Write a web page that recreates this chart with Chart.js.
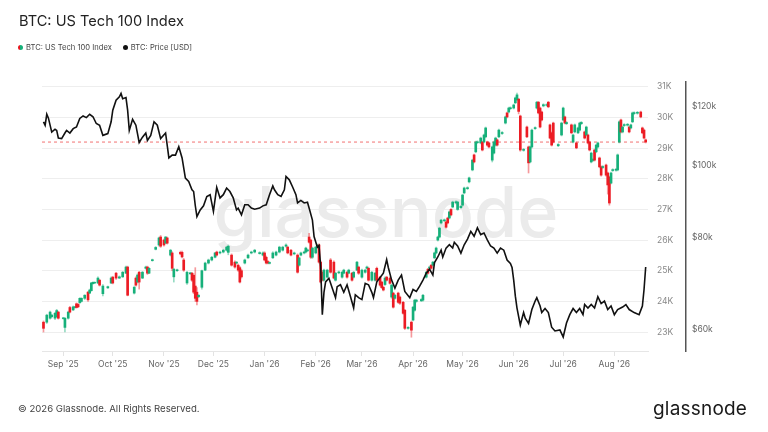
<!DOCTYPE html>
<html lang="en">
<head>
<meta charset="UTF-8">
<title>BTC: US Tech 100 Index</title>
<script src="https://cdn.jsdelivr.net/npm/chart.js"></script>
<style>
  body { margin: 0; background: #fff; font-family: 'Inter', sans-serif; }
  .wrap { position: relative; width: 768px; height: 432px; overflow: hidden; }
  .chart-box { position: absolute; left: 0; top: 0; width: 768px; height: 432px; }
  .title { position: absolute; left: 19px; top: 12px; font-size: 14.6px; color: #222; }
  .legend { position: absolute; left: 18px; top: 43px; font-size: 7.6px; color: #444; display: flex; gap: 11px; }
  .legend span { display: inline-flex; align-items: center; }
  .dot { width: 5px; height: 5px; border-radius: 50%; margin-right: 3px; display: inline-block; }
  .dot.candle { background: linear-gradient(90deg, #e8141c 50%, #16b07a 50%); }
  .dot.price { background: #111; }
  .footer { position: absolute; left: 18px; top: 403px; font-size: 9.6px; color: #444; }
  .logo { position: absolute; left: 653px; top: 397px; font-size: 19px; color: #1a1a1a; letter-spacing: 0.2px; }
</style>
</head>
<body>
<div class="wrap">
  <div class="chart-box"><canvas id="chart"></canvas></div>
  <div class="title">BTC: US Tech 100 Index</div>
  <div class="legend">
    <span><i class="dot candle"></i>BTC: US Tech 100 Index</span>
    <span><i class="dot price"></i>BTC: Price [USD]</span>
  </div>
  <div class="footer">© 2026 Glassnode. All Rights Reserved.</div>
  <div class="logo">glassnode</div>
</div>

<script>
// x values are days counted from 1 Sep 2025
const monthDays = [0, 30, 61, 91, 122, 153, 181, 212, 242, 273, 303, 334];
const monthLabels = ["Sep '25", "Oct '25", "Nov '25", "Dec '25", "Jan '26", "Feb '26",
                     "Mar '26", "Apr '26", "May '26", "Jun '26", "Jul '26", "Aug '26"];

// US Tech 100 index candles (thousands)
const candleDay = [
  -12,-10,-8,-7,-5,-4,-3,0,1,3,
  4,6,7,8,9,10,11,13,15,16,
  17,18,19,21,22,24,27,29,30,32,
  34,36,38,39,43,44,45,46,48,50,
  51,52,54,56,58,59,61,62,63,65,
  66,67,69,71,72,73,75,77,78,79,
  80,81,82,84,86,88,90,92,93,95,
  97,99,100,102,104,105,106,107,108,110,
  112,114,116,119,121,122,123,124,125,127,
  129,131,133,135,136,138,140,142,143,144,
  146,147,148,149,150,151,153,154,155,156,
  157,158,160,162,164,165,167,169,170,172,
  173,175,176,178,179,181,183,184,185,187,
  189,190,192,193,194,195,196,198,199,200,
  201,203,204,206,207,209,211,212,213,214,
  217,218,220,221,222,223,224,225,226,227,
  228,229,231,232,233,234,235,236,238,239,
  241,242,243,245,246,248,249,250,251,253,
  254,255,256,257,258,260,261,262,263,264,
  266,268,269,270,271,273,274,275,276,277,
  279,281,282,283,284,286,287,288,289,290,
  291,293,294,295,296,297,300,302,303,304,
  305,308,309,310,311,312,313,314,316,317,
  318,319,320,321,322,323,324,325,326,327,
  329,330,331,332,333,335,336,337,338,339,
  340,342,343,344,345,346,348,350,351,352,
  353
];
const candleOpen = [
  23.32,23.32,23.45,23.50,23.45,23.50,23.65,23.44,23.15,23.45,
  23.80,23.72,23.80,23.92,23.90,23.96,24.00,24.10,24.30,24.27,
  24.35,24.58,24.60,24.60,24.69,24.25,24.44,24.60,24.79,24.92,
  24.76,24.80,24.92,25.12,24.27,24.76,24.63,24.95,24.76,25.08,
  25.12,24.92,25.33,25.70,25.84,26.10,26.00,25.90,26.07,25.51,
  25.58,24.80,25.00,25.60,25.60,25.35,24.60,24.90,24.92,24.85,
  24.50,24.30,24.15,24.46,25.02,25.25,25.35,25.44,25.61,25.58,
  25.61,25.67,25.60,25.51,25.28,25.25,25.18,25.10,25.00,25.25,
  25.42,25.58,25.61,25.56,25.51,25.58,25.44,25.30,25.24,25.42,
  25.51,25.61,25.67,25.80,25.77,25.67,25.55,25.51,25.18,25.51,
  25.58,25.61,25.65,26.10,26.00,25.44,25.58,25.80,25.84,25.28,
  24.95,24.69,24.79,25.35,25.28,24.69,24.93,24.79,24.92,24.95,
  24.92,24.92,24.79,25.02,25.12,24.79,24.95,25.08,25.08,24.69,
  24.69,25.08,24.79,24.63,24.46,24.55,24.79,24.76,24.14,24.27,
  24.10,24.27,24.14,23.97,23.71,23.12,23.32,23.39,23.71,24.00,
  24.02,24.04,24.79,25.05,25.08,25.18,25.18,25.42,25.58,26.00,
  26.10,26.56,26.63,26.59,26.72,26.72,27.00,27.08,27.22,27.00,
  27.06,27.14,27.54,27.68,27.90,28.29,28.78,28.88,29.18,29.17,
  29.20,29.20,29.37,29.20,29.17,28.61,28.84,29.10,29.27,29.37,
  29.48,29.82,30.15,30.18,30.29,30.31,30.48,30.58,30.60,30.05,
  28.93,29.69,29.04,28.55,29.04,29.64,30.31,30.50,30.31,30.18,
  30.38,30.40,30.50,29.76,29.50,29.82,29.08,29.43,29.92,30.02,
  29.80,29.76,29.20,29.53,29.17,29.50,29.59,29.80,29.53,29.43,
  29.43,29.20,28.55,28.60,28.94,28.88,29.04,28.68,28.39,28.37,
  28.45,28.19,28.06,27.86,28.27,28.28,28.29,29.20,29.92,29.53,
  29.74,29.75,29.69,29.66,29.86,30.13,30.14,30.18,29.66,29.59,
  29.27
];
const candleHigh = [
  23.36,23.58,23.68,23.58,23.64,23.74,23.68,23.48,23.47,23.68,
  23.84,23.85,23.84,23.95,23.93,24.12,24.12,24.22,24.33,24.40,
  24.62,24.64,24.64,24.80,24.72,24.55,24.50,24.80,24.82,24.95,
  24.83,24.98,25.15,25.15,24.50,24.80,24.90,24.98,24.98,25.15,
  25.15,25.10,25.38,25.79,26.10,26.15,26.03,26.12,26.10,25.70,
  25.62,25.08,25.05,25.64,25.64,25.40,24.98,24.95,24.95,24.90,
  25.10,24.45,24.22,25.02,25.28,25.38,25.47,25.60,25.64,25.64,
  25.70,25.80,25.84,25.55,25.32,25.30,25.22,25.14,25.05,25.38,
  25.54,25.64,25.70,25.62,25.62,25.62,25.48,25.33,25.29,25.62,
  25.64,25.80,25.80,25.88,25.80,25.70,25.61,25.55,25.45,25.61,
  25.64,25.77,25.71,26.22,26.03,25.77,25.80,25.87,25.88,25.32,
  25.00,25.05,25.05,25.40,25.32,24.95,24.99,24.98,25.05,24.98,
  25.05,24.95,24.98,25.31,25.15,25.05,25.05,25.15,25.12,24.98,
  24.95,25.12,24.82,24.66,24.50,24.80,24.82,24.80,24.56,24.30,
  24.23,24.30,24.17,24.00,23.74,23.18,23.36,23.84,24.07,24.07,
  24.09,24.23,24.98,25.08,25.15,25.21,25.31,25.61,25.77,26.13,
  26.42,26.68,26.69,26.62,26.75,26.95,27.03,27.27,27.28,27.27,
  27.13,27.50,27.73,27.74,28.06,28.64,28.81,29.23,29.24,29.36,
  29.23,29.46,29.69,29.23,29.20,29.07,29.23,29.36,29.30,29.62,
  29.54,30.05,30.18,30.34,30.35,30.44,30.67,30.80,30.63,30.08,
  28.99,29.72,29.07,29.07,29.62,29.70,30.53,30.53,30.34,30.21,
  30.45,30.45,30.53,29.79,29.53,29.85,29.15,29.85,30.34,30.05,
  29.87,29.79,29.46,29.79,29.20,29.69,29.85,29.87,29.56,29.72,
  29.46,29.23,28.87,28.66,28.97,29.13,29.20,28.71,28.42,28.43,
  28.48,28.22,28.09,28.22,28.33,28.34,28.81,29.89,29.95,29.72,
  29.80,29.81,29.72,29.79,30.18,30.19,30.20,30.21,29.69,29.62,
  29.30
];
const candleLow = [
  23.00,23.28,23.42,23.46,23.40,23.47,23.42,23.42,23.00,23.42,
  23.62,23.70,23.78,23.78,23.80,23.93,23.98,24.06,24.00,24.25,
  24.33,24.56,24.58,24.58,24.50,24.18,24.42,24.58,24.57,24.72,
  24.74,24.78,24.90,24.18,24.24,24.50,24.60,24.40,24.74,25.05,
  24.88,24.90,25.31,25.68,25.80,25.76,25.80,25.88,25.87,25.48,
  25.00,24.63,24.98,25.52,25.42,24.98,24.55,24.88,24.65,24.25,
  24.00,23.88,24.12,24.40,25.00,25.22,25.32,25.42,25.48,25.55,
  25.58,25.64,25.52,25.15,25.08,25.22,24.98,24.60,24.76,25.22,
  25.40,25.55,25.58,25.54,25.48,25.32,25.22,25.22,25.22,25.40,
  25.48,25.58,25.64,25.77,25.55,25.48,25.52,24.92,25.15,25.48,
  25.55,25.58,25.62,25.90,25.40,25.40,25.55,25.77,25.25,24.60,
  24.66,24.66,24.76,24.92,24.73,24.66,24.90,24.76,24.90,24.76,
  24.90,24.66,24.76,25.00,24.88,24.76,24.92,25.05,24.66,24.66,
  24.66,24.66,24.50,24.42,24.34,24.52,24.66,24.56,24.10,23.78,
  24.07,23.94,23.90,23.58,23.08,23.09,22.83,23.36,23.68,23.97,
  23.99,24.01,24.76,24.89,25.05,25.05,25.15,25.39,25.55,25.97,
  26.07,26.53,26.60,26.39,26.53,26.69,26.79,27.05,27.19,26.97,
  27.03,27.11,27.51,27.65,27.87,28.26,28.52,28.85,29.15,29.14,
  28.91,29.17,29.34,29.07,29.01,28.55,28.81,29.07,29.07,29.34,
  29.45,29.79,29.99,30.15,30.26,30.28,30.45,30.55,30.12,28.90,
  28.90,29.34,28.19,28.52,29.01,29.61,30.28,30.12,29.66,29.89,
  30.35,30.37,30.32,29.30,29.07,29.17,29.05,29.40,29.89,29.79,
  29.77,29.47,29.17,29.50,28.98,29.47,29.56,29.77,29.30,29.40,
  29.14,28.91,28.52,28.57,28.58,28.85,29.01,28.36,28.09,28.34,
  28.09,27.50,27.14,27.83,28.24,28.25,28.26,29.17,29.50,29.50,
  29.71,29.72,29.50,29.63,29.83,30.10,30.11,29.99,29.47,29.30,
  29.17
];
const candleClose = [
  23.12,23.55,23.65,23.55,23.61,23.70,23.45,23.46,23.45,23.65,
  23.65,23.82,23.82,23.80,23.82,24.10,24.10,24.20,24.05,24.37,
  24.60,24.62,24.62,24.76,24.53,24.50,24.48,24.76,24.60,24.76,
  24.80,24.95,25.12,24.20,24.46,24.53,24.86,24.63,24.95,25.12,
  24.92,25.08,25.36,25.76,26.07,25.80,25.84,26.10,25.90,25.67,
  25.08,25.05,25.03,25.55,25.45,25.02,24.95,24.93,24.69,24.30,
  24.10,24.00,24.20,25.00,25.25,25.35,25.44,25.58,25.51,25.61,
  25.67,25.77,25.80,25.18,25.12,25.28,25.02,24.63,24.80,25.35,
  25.51,25.61,25.67,25.59,25.58,25.35,25.25,25.25,25.27,25.58,
  25.61,25.77,25.77,25.84,25.58,25.51,25.58,24.95,25.42,25.58,
  25.61,25.74,25.68,25.93,25.44,25.74,25.77,25.84,25.28,24.63,
  24.69,25.02,25.02,24.95,24.76,24.92,24.96,24.95,25.02,24.79,
  25.02,24.69,24.95,25.28,24.92,25.02,25.02,25.12,24.69,24.95,
  24.92,24.69,24.53,24.45,24.37,24.76,24.69,24.59,24.53,23.81,
  24.20,23.97,23.94,23.61,23.12,23.15,23.06,23.81,24.04,24.04,
  24.06,24.20,24.95,24.92,25.12,25.08,25.28,25.58,25.74,26.10,
  26.39,26.65,26.66,26.42,26.56,26.92,26.82,27.24,27.25,27.24,
  27.10,27.47,27.70,27.71,28.03,28.61,28.55,29.20,29.21,29.33,
  28.94,29.43,29.66,29.10,29.04,29.04,29.20,29.33,29.10,29.59,
  29.51,30.02,30.02,30.31,30.32,30.41,30.64,30.74,30.20,28.94,
  28.96,29.37,28.52,29.04,29.59,29.67,30.50,30.15,29.69,29.92,
  30.42,30.42,30.35,29.33,29.10,29.20,29.12,29.82,30.31,29.82,
  29.84,29.50,29.43,29.76,29.01,29.66,29.82,29.84,29.33,29.69,
  29.17,28.94,28.84,28.63,28.61,29.10,29.17,28.39,28.12,28.40,
  28.12,27.80,27.21,28.19,28.30,28.31,28.78,29.86,29.53,29.69,
  29.77,29.78,29.53,29.76,30.15,30.16,30.17,30.02,29.50,29.33,
  29.20
];

// BTC price (USD thousands)
const priceDay = [
  -12,-11,-10,-9,-7,-5,-4,-3,-1,1,
  2,4,6,8,10,12,14,16,18,20,
  22,24,27,29,30,32,34,35,36,38,
  39,40,42,44,46,48,50,51,53,55,
  57,59,62,64,66,68,70,72,74,76,
  78,79,80,81,83,85,87,89,91,93,
  95,97,99,101,103,105,106,108,110,112,
  114,116,119,121,123,125,127,128,130,132,
  134,135,137,139,141,142,144,146,148,149,
  151,152,154,155,156,157,158,159,161,163,
  165,166,168,170,172,174,176,177,179,181,
  183,185,187,188,190,191,194,196,197,199,
  201,203,205,207,210,212,214,216,218,220,
  222,224,225,227,229,230,232,234,236,237,
  239,241,243,245,247,249,251,253,255,257,
  259,261,263,265,267,269,271,272,273,274,
  275,277,279,280,282,284,286,287,289,290,
  292,294,296,298,301,303,305,307,309,311,
  313,315,316,318,320,322,324,326,328,330,
  332,334,336,339,341,343,346,349,351,352,
  353
];
const priceVal = [
  114.3,113.1,117.0,115.6,110.7,111.7,111.3,108.7,108.5,110.4,
  111.3,110.4,111.9,112.5,115.5,116.4,115.8,117.0,116.1,113.7,
  113.1,109.6,110.2,114.3,118.5,122.2,123.5,124.8,122.8,123.2,
  118.5,111.3,115.2,113.1,107.2,109.0,110.4,107.9,109.6,114.3,
  113.1,108.5,110.4,102.2,103.1,103.1,105.8,102.2,96.0,95.0,
  92.6,92.1,88.2,85.2,87.0,88.1,90.7,91.2,86.6,93.3,
  90.3,91.2,93.1,92.1,90.3,87.0,87.5,85.7,88.4,88.4,
  87.5,87.2,87.5,88.1,88.4,91.2,93.7,92.6,91.2,90.7,
  92.6,96.5,95.5,93.4,91.2,88.9,89.6,88.9,89.1,87.5,
  84.3,80.1,77.5,77.9,73.0,62.9,67.4,69.6,70.4,68.3,
  66.3,68.6,69.0,67.4,69.0,66.6,64.2,66.9,66.3,65.9,
  69.3,69.0,67.4,66.3,69.6,70.1,71.5,74.6,72.8,70.0,
  68.3,70.0,71.1,67.6,66.3,68.0,67.6,68.7,70.0,71.5,
  72.4,71.1,73.9,75.2,76.8,75.2,77.3,78.1,77.3,78.7,
  77.8,76.1,78.1,79.5,81.4,80.2,82.3,80.6,81.0,79.3,
  77.8,77.3,76.1,77.3,76.8,74.5,73.7,72.8,70.0,66.6,
  64.2,60.9,63.3,62.2,61.2,63.9,65.6,66.3,64.6,63.3,
  64.1,63.3,60.5,59.8,60.0,58.7,61.3,62.9,64.1,63.3,
  64.1,62.9,64.9,64.2,64.9,64.2,66.5,65.1,65.6,63.9,
  64.6,62.9,63.9,64.4,64.9,63.9,63.3,62.9,64.6,68.0,
  72.9
];

const indexTicks = [23, 24, 25, 26, 27, 28, 29, 30, 31];
const priceTicks = [60, 80, 100, 120];

const GREEN = '#16b07a';
const RED = '#ec1c24';
const GREEN_WICK = 'rgba(22, 176, 122, 0.45)';
const RED_WICK = 'rgba(236, 28, 36, 0.45)';

const isUp = (i) => candleClose[i] >= candleOpen[i];
const lastClose = candleClose[candleClose.length - 1];

const xMin = -12.9;
const xMax = 354.4;

const bodies = candleDay.map((d, i) => ({ x: d, y: [candleOpen[i], candleClose[i]] }));
const wicks = candleDay.map((d, i) => ({ x: d, y: [candleLow[i], candleHigh[i]] }));
const prices = priceDay.map((d, i) => ({ x: d, y: priceVal[i] }));

// big faint logo behind the data
const watermark = {
  id: 'watermark',
  beforeDatasetsDraw(chart) {
    const ctx = chart.ctx;
    ctx.save();
    ctx.font = '500 70px Inter';
    ctx.fillStyle = '#ebebeb';
    ctx.textAlign = 'center';
    ctx.textBaseline = 'alphabetic';
    ctx.fillText('glassnode', 386, 237);
    ctx.restore();
  }
};

new Chart(document.getElementById('chart'), {
  data: {
    datasets: [
      {
        type: 'line',
        data: prices,
        yAxisID: 'y2',
        borderColor: '#111',
        borderWidth: 1.6,
        pointRadius: 0,
        tension: 0,
        order: 0
      },
      {
        type: 'bar',
        data: bodies,
        yAxisID: 'y',
        grouped: false,
        barThickness: 2,
        backgroundColor: (c) => isUp(c.dataIndex) ? GREEN : RED,
        order: 1
      },
      {
        type: 'bar',
        data: wicks,
        yAxisID: 'y',
        grouped: false,
        barThickness: 1,
        backgroundColor: (c) => isUp(c.dataIndex) ? GREEN_WICK : RED_WICK,
        order: 2
      },
      {
        type: 'line',
        data: [{ x: xMin, y: lastClose }, { x: xMax, y: lastClose }],
        yAxisID: 'y',
        borderColor: 'rgba(240, 90, 90, 0.85)',
        borderWidth: 1,
        borderDash: [3, 3],
        pointRadius: 0,
        order: 3
      }
    ]
  },
  options: {
    responsive: true,
    maintainAspectRatio: false,
    animation: false,
    layout: { padding: { left: 42, top: 82, right: 37, bottom: 61 } },
    plugins: {
      legend: { display: false },
      tooltip: { enabled: false }
    },
    scales: {
      x: {
        type: 'linear',
        offset: false,
        min: xMin,
        max: xMax,
        afterBuildTicks: (s) => { s.ticks = monthDays.map(v => ({ value: v })); },
        afterFit: (s) => { s.height = 20; },
        ticks: {
          autoSkip: false,
          maxRotation: 0,
          padding: 3,
          color: '#666',
          font: { family: 'Inter', size: 8.5 },
          callback: (v, i) => monthLabels[i]
        },
        grid: { drawOnChartArea: false, offset: false, tickLength: 5, color: '#e3e3e3' },
        border: { display: true, color: '#e6e6e6' }
      },
      y: {
        type: 'linear',
        position: 'right',
        min: 22.38,
        max: 31.16,
        weight: 0,
        afterBuildTicks: (s) => { s.ticks = indexTicks.map(v => ({ value: v })); },
        afterFit: (s) => { s.width = 38; },
        ticks: {
          padding: 9,
          color: '#888',
          font: { family: 'Inter', size: 8.5 },
          callback: (v) => v + 'K'
        },
        grid: { color: '#eeeeee', drawTicks: false },
        border: { display: false }
      },
      y2: {
        type: 'logarithmic',
        position: 'right',
        min: 56.2,
        max: 129.3,
        weight: 1,
        afterBuildTicks: (s) => { s.ticks = priceTicks.map(v => ({ value: v })); },
        afterFit: (s) => { s.width = 45; },
        ticks: {
          padding: 6,
          color: '#666',
          font: { family: 'Inter', size: 8.5 },
          callback: (v) => '$' + v + 'k'
        },
        grid: { drawOnChartArea: false, drawTicks: false },
        border: { display: true, color: '#555', width: 1.5 }
      }
    }
  },
  plugins: [watermark]
});
</script>
</body>
</html>
